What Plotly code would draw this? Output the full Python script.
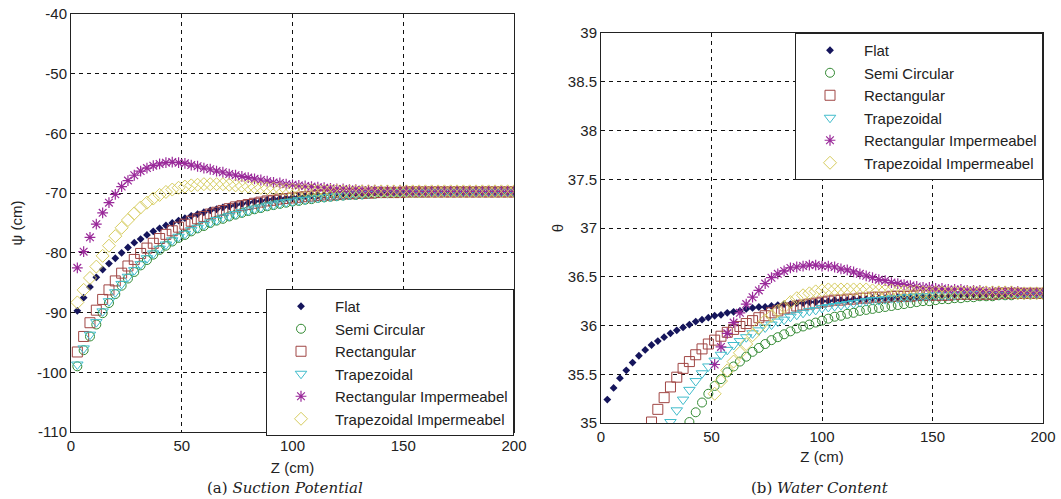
import plotly.graph_objects as go

# ---------------- data ----------------
Z = [2.86, 5.71, 8.57, 11.43, 14.29, 17.14, 20.0, 22.86, 25.71, 28.57,
     31.43, 34.29, 37.14, 40.0, 42.86, 45.71, 48.57, 51.43, 54.29, 57.14,
     60.0, 62.86, 65.71, 68.57, 71.43, 74.29, 77.14, 80.0, 82.86, 85.71,
     88.57, 91.43, 94.29, 97.14, 100.0, 102.86, 105.71, 108.57, 111.43, 114.29,
     117.14, 120.0, 122.86, 125.71, 128.57, 131.43, 134.29, 137.14, 140.0, 142.86,
     145.71, 148.57, 151.43, 154.29, 157.14, 160.0, 162.86, 165.71, 168.57, 171.43,
     174.29, 177.14, 180.0, 182.86, 185.71, 188.57, 191.43, 194.29, 197.14, 200.0]

SERIES = ["Flat", "Semi Circular", "Rectangular", "Trapezoidal",
          "Rectangular Impermeabel", "Trapezoidal Impermeabel"]

# (a) suction potential psi (cm)
PSI_FLAT = [-89.7, -87.5, -85.7, -84.1, -82.8, -81.8, -80.9, -80.0, -79.1, -78.3,
            -77.7, -77.0, -76.4, -75.9, -75.4, -75.0, -74.6, -74.2, -73.8, -73.5,
            -73.2, -72.9, -72.7, -72.4, -72.2, -72.0, -71.8, -71.6, -71.4, -71.3,
            -71.1, -71.0, -70.9, -70.8, -70.7, -70.6, -70.5, -70.4, -70.4, -70.3,
            -70.2, -70.2, -70.1, -70.1, -70.0, -70.0, -70.0, -69.9, -69.9, -69.9,
            -69.9, -69.9, -69.8, -69.8, -69.8, -69.8, -69.8, -69.8, -69.8, -69.8,
            -69.8, -69.8, -69.8, -69.8, -69.8, -69.8, -69.8, -69.8, -69.8, -69.8]
PSI_SEMI = [-99.0, -96.3, -94.0, -92.0, -90.1, -88.4, -86.9, -85.5, -84.3, -83.2,
            -82.1, -81.2, -80.3, -79.5, -78.8, -78.1, -77.5, -77.0, -76.4, -75.9,
            -75.5, -75.0, -74.6, -74.3, -73.9, -73.6, -73.3, -73.0, -72.7, -72.5,
            -72.2, -72.0, -71.8, -71.6, -71.4, -71.3, -71.1, -71.0, -70.8, -70.7,
            -70.6, -70.5, -70.4, -70.3, -70.3, -70.2, -70.1, -70.1, -70.0, -70.0,
            -70.0, -69.9, -69.9, -69.9, -69.9, -69.9, -69.8, -69.8, -69.8, -69.8,
            -69.8, -69.8, -69.8, -69.8, -69.8, -69.8, -69.8, -69.8, -69.8, -69.8]
PSI_RECT = [-96.6, -94.0, -91.7, -89.6, -87.8, -86.2, -84.7, -83.4, -82.2, -81.1,
            -80.1, -79.2, -78.4, -77.6, -76.9, -76.3, -75.7, -75.2, -74.7, -74.3,
            -73.9, -73.5, -73.2, -72.9, -72.6, -72.3, -72.1, -71.9, -71.7, -71.5,
            -71.3, -71.2, -71.0, -70.9, -70.8, -70.7, -70.6, -70.5, -70.4, -70.3,
            -70.3, -70.2, -70.1, -70.1, -70.0, -70.0, -70.0, -69.9, -69.9, -69.9,
            -69.9, -69.9, -69.8, -69.8, -69.8, -69.8, -69.8, -69.8, -69.8, -69.8,
            -69.8, -69.8, -69.8, -69.8, -69.8, -69.8, -69.8, -69.8, -69.8, -69.8]
PSI_TRAP = [-98.7, -96.0, -93.7, -91.6, -89.8, -88.1, -86.6, -85.2, -84.0, -82.9,
            -81.9, -80.9, -80.1, -79.3, -78.6, -77.9, -77.3, -76.8, -76.2, -75.8,
            -75.3, -74.9, -74.5, -74.1, -73.8, -73.5, -73.2, -72.9, -72.6, -72.4,
            -72.1, -71.9, -71.7, -71.5, -71.4, -71.2, -71.1, -70.9, -70.8, -70.7,
            -70.6, -70.5, -70.4, -70.3, -70.2, -70.2, -70.1, -70.0, -70.0, -70.0,
            -69.9, -69.9, -69.9, -69.9, -69.9, -69.9, -69.8, -69.8, -69.8, -69.8,
            -69.8, -69.8, -69.8, -69.8, -69.8, -69.8, -69.8, -69.8, -69.8, -69.8]
PSI_RI = [-82.5, -79.8, -77.4, -75.2, -73.3, -71.6, -70.2, -68.9, -67.9, -67.0,
          -66.3, -65.8, -65.4, -65.1, -64.9, -64.8, -64.9, -65.0, -65.3, -65.5,
          -65.8, -66.0, -66.3, -66.5, -66.8, -67.0, -67.2, -67.4, -67.6, -67.8,
          -68.0, -68.2, -68.3, -68.5, -68.6, -68.7, -68.8, -68.9, -69.0, -69.1,
          -69.2, -69.3, -69.3, -69.4, -69.4, -69.5, -69.5, -69.5, -69.6, -69.6,
          -69.6, -69.6, -69.6, -69.7, -69.7, -69.7, -69.7, -69.7, -69.7, -69.7,
          -69.7, -69.7, -69.7, -69.7, -69.7, -69.7, -69.7, -69.7, -69.7, -69.7]
PSI_TI = [-88.3, -86.2, -84.2, -82.3, -80.5, -78.8, -77.2, -75.8, -74.5, -73.4,
          -72.4, -71.6, -70.9, -70.3, -69.8, -69.4, -69.1, -68.9, -68.7, -68.6,
          -68.5, -68.5, -68.5, -68.5, -68.6, -68.7, -68.8, -68.9, -69.0, -69.1,
          -69.2, -69.2, -69.3, -69.4, -69.4, -69.5, -69.5, -69.5, -69.6, -69.6,
          -69.6, -69.6, -69.7, -69.7, -69.7, -69.7, -69.7, -69.7, -69.7, -69.7,
          -69.7, -69.7, -69.7, -69.7, -69.7, -69.7, -69.7, -69.7, -69.7, -69.7,
          -69.7, -69.7, -69.7, -69.7, -69.7, -69.7, -69.7, -69.7, -69.7, -69.7]

# (b) water content theta (values below 35 fall outside the axis -> None)
N = None
TH_FLAT = [35.24, 35.36, 35.46, 35.54, 35.62, 35.69, 35.75, 35.80, 35.84, 35.88,
           35.92, 35.95, 35.98, 36.01, 36.04, 36.06, 36.08, 36.10, 36.11, 36.13,
           36.14, 36.15, 36.17, 36.18, 36.19, 36.19, 36.20, 36.21, 36.22, 36.22,
           36.23, 36.23, 36.24, 36.24, 36.25, 36.25, 36.26, 36.26, 36.26, 36.27,
           36.27, 36.27, 36.28, 36.28, 36.28, 36.28, 36.29, 36.29, 36.29, 36.29,
           36.30, 36.30, 36.30, 36.30, 36.30, 36.31, 36.31, 36.31, 36.31, 36.31,
           36.32, 36.32, 36.32, 36.32, 36.32, 36.33, 36.33, 36.33, 36.33, 36.33]
TH_SEMI = [N, N, N, N, N, N, N, N, N, N,
           N, N, N, 35.01, 35.11, 35.21, 35.30, 35.38, 35.45, 35.52,
           35.58, 35.63, 35.68, 35.73, 35.77, 35.81, 35.85, 35.88, 35.91, 35.94,
           35.97, 35.99, 36.01, 36.03, 36.05, 36.07, 36.09, 36.10, 36.12, 36.13,
           36.15, 36.16, 36.17, 36.18, 36.19, 36.20, 36.21, 36.22, 36.23, 36.24,
           36.25, 36.25, 36.26, 36.27, 36.27, 36.28, 36.28, 36.29, 36.29, 36.30,
           36.30, 36.30, 36.31, 36.31, 36.31, 36.32, 36.32, 36.32, 36.33, 36.33]
TH_RECT = [N, N, N, N, N, N, N, 35.01, 35.14, 35.26,
           35.37, 35.47, 35.56, 35.63, 35.70, 35.76, 35.81, 35.85, 35.89, 35.93,
           35.96, 35.99, 36.02, 36.05, 36.08, 36.10, 36.13, 36.15, 36.17, 36.18,
           36.20, 36.21, 36.22, 36.23, 36.24, 36.25, 36.26, 36.26, 36.27, 36.27,
           36.28, 36.28, 36.29, 36.29, 36.29, 36.30, 36.30, 36.30, 36.30, 36.31,
           36.31, 36.31, 36.31, 36.31, 36.31, 36.32, 36.32, 36.32, 36.32, 36.32,
           36.32, 36.32, 36.33, 36.33, 36.33, 36.33, 36.33, 36.33, 36.33, 36.33]
TH_TRAP = [N, N, N, N, N, N, N, N, N, N,
           35.01, 35.13, 35.24, 35.34, 35.43, 35.51, 35.58, 35.64, 35.70, 35.75,
           35.80, 35.84, 35.88, 35.92, 35.95, 35.98, 36.01, 36.04, 36.06, 36.09,
           36.11, 36.13, 36.15, 36.16, 36.18, 36.19, 36.20, 36.21, 36.22, 36.23,
           36.24, 36.25, 36.26, 36.26, 36.27, 36.28, 36.28, 36.29, 36.29, 36.30,
           36.30, 36.30, 36.31, 36.31, 36.31, 36.31, 36.32, 36.32, 36.32, 36.32,
           36.32, 36.32, 36.32, 36.32, 36.33, 36.33, 36.33, 36.33, 36.33, 36.33]
TH_RI = [N, N, N, N, N, N, N, N, N, N,
         N, N, N, N, N, N, N, 35.60, 35.78, 35.92,
         36.03, 36.13, 36.22, 36.29, 36.36, 36.43, 36.49, 36.53, 36.56, 36.59,
         36.60, 36.61, 36.62, 36.62, 36.61, 36.61, 36.60, 36.58, 36.57, 36.55,
         36.53, 36.51, 36.49, 36.47, 36.46, 36.44, 36.43, 36.42, 36.41, 36.40,
         36.39, 36.39, 36.38, 36.38, 36.37, 36.37, 36.37, 36.36, 36.36, 36.36,
         36.35, 36.35, 36.35, 36.35, 36.35, 36.35, 36.34, 36.34, 36.34, 36.34]
TH_TI = [N, N, N, N, N, N, N, N, N, N,
         N, N, N, N, N, N, N, 35.30, 35.43, 35.54,
         35.63, 35.72, 35.81, 35.90, 35.98, 36.05, 36.10, 36.15, 36.19, 36.24,
         36.28, 36.31, 36.33, 36.35, 36.36, 36.37, 36.37, 36.37, 36.37, 36.37,
         36.37, 36.37, 36.36, 36.36, 36.36, 36.36, 36.35, 36.35, 36.35, 36.35,
         36.34, 36.34, 36.34, 36.34, 36.34, 36.34, 36.34, 36.34, 36.34, 36.34,
         36.34, 36.34, 36.34, 36.34, 36.34, 36.33, 36.33, 36.33, 36.33, 36.33]

PSI_TICKS = [-110, -100, -90, -80, -70, -60, -50, -40]
PSI_TICKTEXT = ["-110", "-100", "-90", "-80", "-70", "-60", "-50", "-40"]
TH_TICKS = [35, 35.5, 36, 36.5, 37, 37.5, 38, 38.5, 39]
TH_TICKTEXT = ["35", "35.5", "36", "36.5", "37", "37.5", "38", "38.5", "39"]
X_TICKS = [0, 50, 100, 150, 200]

# ---------------- styles ----------------
STYLES = [
    dict(symbol="diamond", size=6, color="#15155c", line=dict(width=0)),
    dict(symbol="circle-open", size=9, color="#338a33", line=dict(width=1)),
    dict(symbol="square-open", size=10, color="#a04644", line=dict(width=1)),
    dict(symbol="triangle-down-open", size=10, color="#40bccb", line=dict(width=1)),
    dict(symbol="asterisk-open", size=9, color="#9a2a9a", line=dict(width=1.2, color="#9a2a9a")),
    dict(symbol="diamond-open", size=10, color="#d6cc5e", line=dict(width=1)),
]

FONT = "Arial, 'Liberation Sans', sans-serif"
SERIF = "'DejaVu Serif', 'Liberation Serif', serif"

fig = go.Figure()
psi_sets = [PSI_FLAT, PSI_SEMI, PSI_RECT, PSI_TRAP, PSI_RI, PSI_TI]
th_sets = [TH_FLAT, TH_SEMI, TH_RECT, TH_TRAP, TH_RI, TH_TI]
for i, name in enumerate(SERIES):
    fig.add_trace(go.Scatter(x=Z, y=psi_sets[i], mode="markers", name=name,
                             marker=STYLES[i], xaxis="x", yaxis="y",
                             legend="legend", legendgroup="a%d" % i))
for i, name in enumerate(SERIES):
    fig.add_trace(go.Scatter(x=Z, y=th_sets[i], mode="markers", name=name,
                             marker=STYLES[i], xaxis="x2", yaxis="y2",
                             legend="legend2", legendgroup="b%d" % i))

W, H = 1061, 499
TXT = "#222"
axis_common = dict(showline=True, linecolor="#222", linewidth=1, mirror=True,
                   showgrid=True, gridcolor="#111", gridwidth=1, griddash="4px,4px",
                   zeroline=False, ticks="", automargin=False,
                   tickfont=dict(family=FONT, size=15, color=TXT))

legend_common = dict(bgcolor="white", bordercolor="#222", borderwidth=1,
                     font=dict(family=FONT, size=15, color=TXT),
                     itemwidth=58, tracegroupgap=0, xanchor="right", yanchor="top")

fig.update_layout(
    width=W, height=H, margin=dict(l=0, r=0, t=0, b=0),
    paper_bgcolor="white", plot_bgcolor="white", showlegend=True,
    xaxis=dict(domain=[71 / W, 514 / W], range=[0, 200], tickvals=X_TICKS,
               anchor="y", title=dict(text="Z (cm)", standoff=9,
                                      font=dict(family=FONT, size=15, color=TXT)),
               **axis_common),
    yaxis=dict(domain=[(H - 432) / H, (H - 14) / H], range=[-110, -40],
               tickvals=PSI_TICKS, ticktext=PSI_TICKTEXT, anchor="x",
               title=dict(text="ψ (cm)", standoff=10,
                          font=dict(family=FONT, size=15, color=TXT)),
               **axis_common),
    xaxis2=dict(domain=[601 / W, 1043 / W], range=[0, 200], tickvals=X_TICKS,
                anchor="y2", title=dict(text="Z (cm)", standoff=7,
                                        font=dict(family=FONT, size=15, color=TXT)),
                **axis_common),
    yaxis2=dict(domain=[(H - 423) / H, (H - 33) / H], range=[35, 39],
                tickvals=TH_TICKS, ticktext=TH_TICKTEXT, anchor="x2",
                title=dict(text="θ", standoff=0,
                           font=dict(family=FONT, size=15, color=TXT)),
                **axis_common),
    legend=dict(x=514 / W, y=(H - 289) / H, **legend_common),
    legend2=dict(x=1043 / W, y=(H - 33) / H, **legend_common),
    annotations=[
        dict(text="(a) <i>Suction Potential</i>", x=285 / W, y=(H - 488) / H,
             xref="paper", yref="paper", xanchor="center", yanchor="middle",
             showarrow=False, font=dict(family=SERIF, size=15, color=TXT)),
        dict(text="(b) <i>Water Content</i>", x=820 / W, y=(H - 488) / H,
             xref="paper", yref="paper", xanchor="center", yanchor="middle",
             showarrow=False, font=dict(family=SERIF, size=15, color=TXT)),
    ],
)

fig.write_html("out.html")
